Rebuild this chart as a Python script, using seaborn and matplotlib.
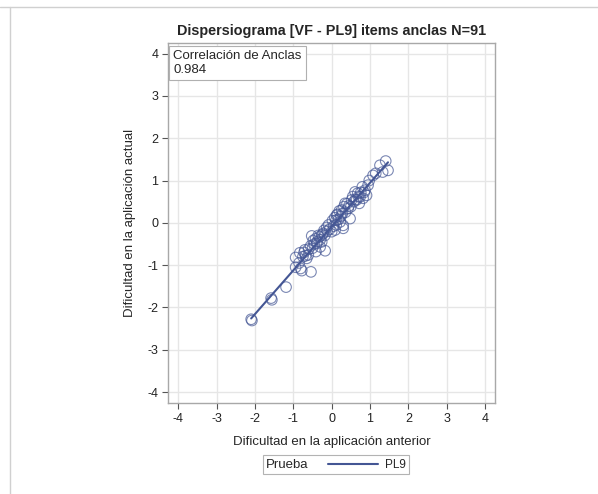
import matplotlib
matplotlib.use("Agg")
import matplotlib.pyplot as plt
import seaborn as sns
import numpy as np
import pandas as pd
from matplotlib.lines import Line2D

# dificultad anterior (x) y actual (y) de los items ancla
dif_anterior = [
    -2.10, -2.08, -1.58, -1.56, -1.19, -0.54, -0.94, -0.81, -0.78, -0.94,
    -0.83, -0.70, -0.61, -0.65, -0.52, -0.41, -0.30, -0.17, -0.26, -0.39,
    -0.48, -0.32, -0.13, -0.22, 0.00, 0.09, 0.13, 0.11, 0.22, 0.30,
    0.30, 0.26, 0.35, 0.48, 0.43, 0.52, 0.61, 0.65, 0.74, 0.72,
    0.82, 0.91, 0.87, 0.95, 1.08, 1.15, 1.26, 1.41, 1.47, 1.33,
    -0.85, -0.75, -0.72, -0.68, -0.60, -0.55, -0.50, -0.45, -0.42, -0.38,
    -0.35, -0.30, -0.25, -0.20, -0.18, -0.12, -0.08, -0.05, 0.02, 0.05,
    0.08, 0.12, 0.15, 0.18, 0.20, 0.24, 0.28, 0.32, 0.36, 0.40,
    0.45, 0.50, 0.55, 0.58, 0.62, 0.68, 0.70, 0.76, 0.80, 0.85,
    0.98,
]
dif_actual = [
    -2.28, -2.31, -1.78, -1.82, -1.52, -1.16, -1.05, -1.08, -1.13, -0.82,
    -0.71, -0.64, -0.76, -0.84, -0.31, -0.68, -0.57, -0.66, -0.45, -0.49,
    -0.42, -0.33, -0.11, -0.25, -0.21, -0.17, 0.18, 0.06, 0.02, -0.13,
    -0.06, 0.30, 0.46, 0.10, 0.34, 0.54, 0.73, 0.54, 0.61, 0.46,
    0.58, 0.65, 0.77, 0.89, 1.12, 1.17, 1.36, 1.46, 1.24, 1.20,
    -0.95, -0.80, -0.70, -0.78, -0.62, -0.55, -0.60, -0.50, -0.38, -0.45,
    -0.30, -0.40, -0.28, -0.18, -0.30, -0.20, -0.05, -0.15, 0.05, -0.08,
    0.12, -0.05, 0.20, 0.08, 0.28, 0.15, 0.22, 0.38, 0.25, 0.45,
    0.40, 0.38, 0.62, 0.50, 0.55, 0.70, 0.62, 0.72, 0.85, 0.72,
    1.00,
]
ticks = [-4, -3, -2, -1, 0, 1, 2, 3, 4]
correlacion = "0.984"
prueba = "PL9"

df = pd.DataFrame({"anterior": dif_anterior, "actual": dif_actual})

sns.set_theme(style="whitegrid")
plt.rcParams["font.family"] = ["Liberation Sans", "DejaVu Sans"]
plt.rcParams["axes.unicode_minus"] = False

azul = "#445694"
fig = plt.figure(figsize=(5.98, 4.94), dpi=100)
ax = fig.add_axes([0.2809, 0.1842, 0.5468, 0.7287])

sns.regplot(data=df, x="anterior", y="actual", ax=ax, ci=None, color=azul,
            scatter_kws=dict(facecolors="none", edgecolors=azul, s=58,
                             linewidths=0.8, alpha=0.7),
            line_kws=dict(lw=1.5, label=prueba))

ax.set_xlim(-4.27, 4.26)
ax.set_ylim(-4.26, 4.25)
ax.set_xticks(ticks)
ax.set_yticks(ticks)
ax.tick_params(labelsize=9, length=4, width=0.8, color="#555555",
               pad=3, bottom=True, left=True, labelcolor="#222222")
ax.grid(color="#e6e6e6", lw=1)
for s in ax.spines.values():
    s.set_color("#a8a8a8")
    s.set_linewidth(1)

ax.set_title("Dispersiograma [VF - PL9] items anclas N=91", fontsize=10.4,
             fontweight="bold", pad=6)
ax.set_xlabel("Dificultad en la aplicación anterior", fontsize=9.5, labelpad=8)
ax.set_ylabel("Dificultad en la aplicación actual", fontsize=9.5, labelpad=8)

ax.text(0.016, 0.982, "Correlación de Anclas\n" + correlacion,
        transform=ax.transAxes, ha="left", va="top", fontsize=9.5,
        linespacing=1.3,
        bbox=dict(boxstyle="square,pad=0.3", fc="white", ec="#b0b0b0", lw=0.8))

# leyenda con el titulo a la izquierda
handles = [Line2D([], [], color=azul, lw=1.5)]
leg = fig.legend(handles, [prueba], title="Prueba", loc="center",
                 bbox_to_anchor=(0.562, 0.059), fontsize=8.5,
                 title_fontsize=9.5, frameon=True, fancybox=False,
                 edgecolor="#a0a0a0", handlelength=4.2, borderpad=0.3,
                 handletextpad=0.6)
leg.get_frame().set_linewidth(0.8)
caja = leg.get_children()[0]
titulo = caja.get_children()[0]
fila = caja.get_children()[1]
caja._children = [fila]
fila._children = [titulo] + fila.get_children()
fila.sep = 14

# bordes tenues de la captura
fig.add_artist(Line2D([0.0, 1.0], [0.986, 0.986], color="#d0d0d0", lw=1))
fig.add_artist(Line2D([0.017, 0.017], [0.0, 0.986], color="#d0d0d0", lw=1))

fig.savefig("out.png", dpi=100)
